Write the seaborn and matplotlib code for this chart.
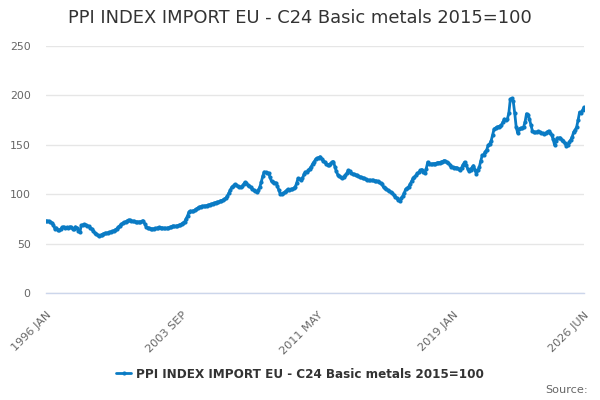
import matplotlib
matplotlib.use('Agg')
import matplotlib.pyplot as plt
from matplotlib.lines import Line2D
import seaborn as sns
import pandas as pd

titulo = 'PPI INDEX IMPORT EU - C24 Basic metals 2015=100'

# valores mensuales, enero 1996 - junio 2026
v1996 = [73, 72.5, 72.8, 72, 71, 69, 65, 66, 64, 63.5, 64.5, 66.5]
v1997 = [67, 66, 66.5, 66, 67, 66.5, 65, 64.5, 67, 66, 63, 62]
v1998 = [68.5, 69, 69.5, 69, 68, 67.5, 66, 65, 63, 61, 59.5, 58.5]
v1999 = [58, 58.5, 59, 60, 60.5, 60.5, 61, 61.5, 62, 62.5, 63, 64]
v2000 = [65, 66.5, 68, 69.5, 70.5, 71.5, 72, 73, 74, 73.5, 73, 72.5]
v2001 = [72.5, 72, 72, 72, 72, 72.5, 73, 70, 67, 66, 65.5, 65]
v2002 = [65, 65, 65.5, 65.5, 66, 66.5, 66, 66, 65.5, 65.5, 65.5, 66]
v2003 = [66.5, 67, 68, 67.5, 67.5, 68, 68.5, 69, 70, 71, 72, 75]
v2004 = [78, 82, 83, 82.5, 83, 84, 85, 86, 87, 87.5, 88, 88]
v2005 = [88, 88.5, 89, 89.5, 90, 90.5, 91, 91.5, 92, 92, 93, 93.5]
v2006 = [94, 95, 96, 98, 101, 104, 107, 108, 110, 109, 108, 107.5]
v2007 = [107, 108, 110, 112, 111, 109, 108, 107, 105, 104, 103, 102.5]
v2008 = [104, 107, 112, 118, 122.5, 122, 121.5, 121.5, 117, 113, 112, 111.5]
v2009 = [111.5, 108, 104, 100, 100.5, 101, 102, 103.5, 105, 104.5, 105, 105]
v2010 = [106, 107, 111, 116, 115, 114, 116, 120, 122.5, 122, 124, 126]
v2011 = [128, 131, 133, 135.5, 136.5, 137, 138, 136, 134, 132.5, 131, 129.5]
v2012 = [130, 131, 132.5, 133, 128, 123, 119.5, 118, 117, 116, 117.5, 119]
v2013 = [121, 124, 123, 121, 120.5, 120, 119.5, 119, 118, 117.5, 117, 116.5]
v2014 = [116, 115, 114.5, 114, 114, 114, 114, 113.5, 113.5, 113, 112, 111]
v2015 = [110, 107, 106, 105, 104, 103, 102, 101, 99, 97.5, 96, 94]
v2016 = [93.5, 96, 98, 101, 105, 106, 107.5, 110, 113, 116, 117.5, 119]
v2017 = [121, 122, 124, 125, 122, 121.5, 126, 132.5, 131, 130.5, 130.5, 131]
v2018 = [131, 131.5, 132, 132, 132.5, 133, 134, 133.5, 132.5, 131.5, 130, 128]
v2019 = [127.5, 127, 127, 126.5, 125.5, 125, 127, 130, 132.5, 130, 126, 123.5]
v2020 = [125, 127, 129, 125, 120.5, 124, 127.5, 134, 139.5, 140, 143, 145]
v2021 = [149.5, 151, 154, 160, 166, 167, 168, 168.5, 169, 170, 173, 176]
v2022 = [175, 176, 182, 196, 197, 194, 182, 168, 162, 166, 167, 167]
v2023 = [168, 173, 181.5, 180, 176, 170, 164, 163, 162.5, 163, 163.5, 163]
v2024 = [162, 161.5, 161, 161.5, 163, 164, 162, 160, 156, 150, 154, 157]
v2025 = [156.5, 157, 155, 154, 151.5, 149, 150, 153, 155, 158, 163, 165]
v2026 = [168, 175, 183, 182, 185, 188]

valores = (v1996 + v1997 + v1998 + v1999 + v2000 + v2001 + v2002 + v2003 +
           v2004 + v2005 + v2006 + v2007 + v2008 + v2009 + v2010 + v2011 +
           v2012 + v2013 + v2014 + v2015 + v2016 + v2017 + v2018 + v2019 +
           v2020 + v2021 + v2022 + v2023 + v2024 + v2025 + v2026)

meses = ['JAN', 'FEB', 'MAR', 'APR', 'MAY', 'JUN',
         'JUL', 'AUG', 'SEP', 'OCT', 'NOV', 'DEC']
periodos = [f'{1996 + i // 12} {meses[i % 12]}' for i in range(len(valores))]

df = pd.DataFrame({'idx': range(len(valores)), 'periodo': periodos, 'valor': valores})

azul = '#0a7bc4'
gris_eje = '#ccd6eb'

sns.set_theme(style='white')
plt.rcParams['font.family'] = ['DejaVu Sans']

fig = plt.figure(figsize=(6, 4), dpi=100)
ax = fig.add_axes([46 / 600, 1 - 293 / 400, (584 - 46) / 600, (293 - 46) / 400])

sns.lineplot(data=df, x='idx', y='valor', ax=ax, color=azul, linewidth=2,
             marker='o', markersize=3, markeredgewidth=0, zorder=3)

ax.set_xlim(0, len(valores) - 1)
ax.set_ylim(0, 250)
ax.set_yticks(range(0, 251, 50))
ax.yaxis.grid(True, color='#e6e6e6', linewidth=1)
ax.set_axisbelow(True)
ax.tick_params(axis='y', length=0, labelsize=7.9, labelcolor='#666666', pad=11)

# ticks cada 23 meses, etiqueta cada 92 y en el ultimo
ticks = list(range(0, len(valores), 23)) + [len(valores) - 1]
etiquetas = [periodos[t] if (t % 92 == 0 or t == len(valores) - 1) else '' for t in ticks]
ax.set_xticks(ticks)
ax.set_xticklabels(etiquetas, rotation=45, ha='right', rotation_mode='anchor')
ax.tick_params(axis='x', length=9, width=1, color=gris_eje, direction='out',
               labelsize=8.1, labelcolor='#666666', pad=3)

for lado in ['top', 'right', 'left']:
    ax.spines[lado].set_visible(False)
ax.spines['bottom'].set_color(gris_eje)
ax.spines['bottom'].set_linewidth(1)
ax.set_xlabel('')
ax.set_ylabel('')

fig.text(0.5, 1 - 18 / 400, titulo, ha='center', va='center', fontsize=12.9, color='#333333')

simbolo = Line2D([], [], color=azul, linewidth=2, marker='o', markersize=3, markeredgewidth=0)
fig.legend([simbolo], [titulo], loc='center', bbox_to_anchor=(0.5, 1 - 374 / 400),
           frameon=False, handlelength=1.3, handletextpad=0.4,
           prop={'weight': 'bold', 'size': 8.65}, labelcolor='#333333')

fig.text(0.98, 1 - 390 / 400, 'Source:', ha='right', va='center', fontsize=8.1, color='#666666')

fig.savefig('out.png', dpi=100)
